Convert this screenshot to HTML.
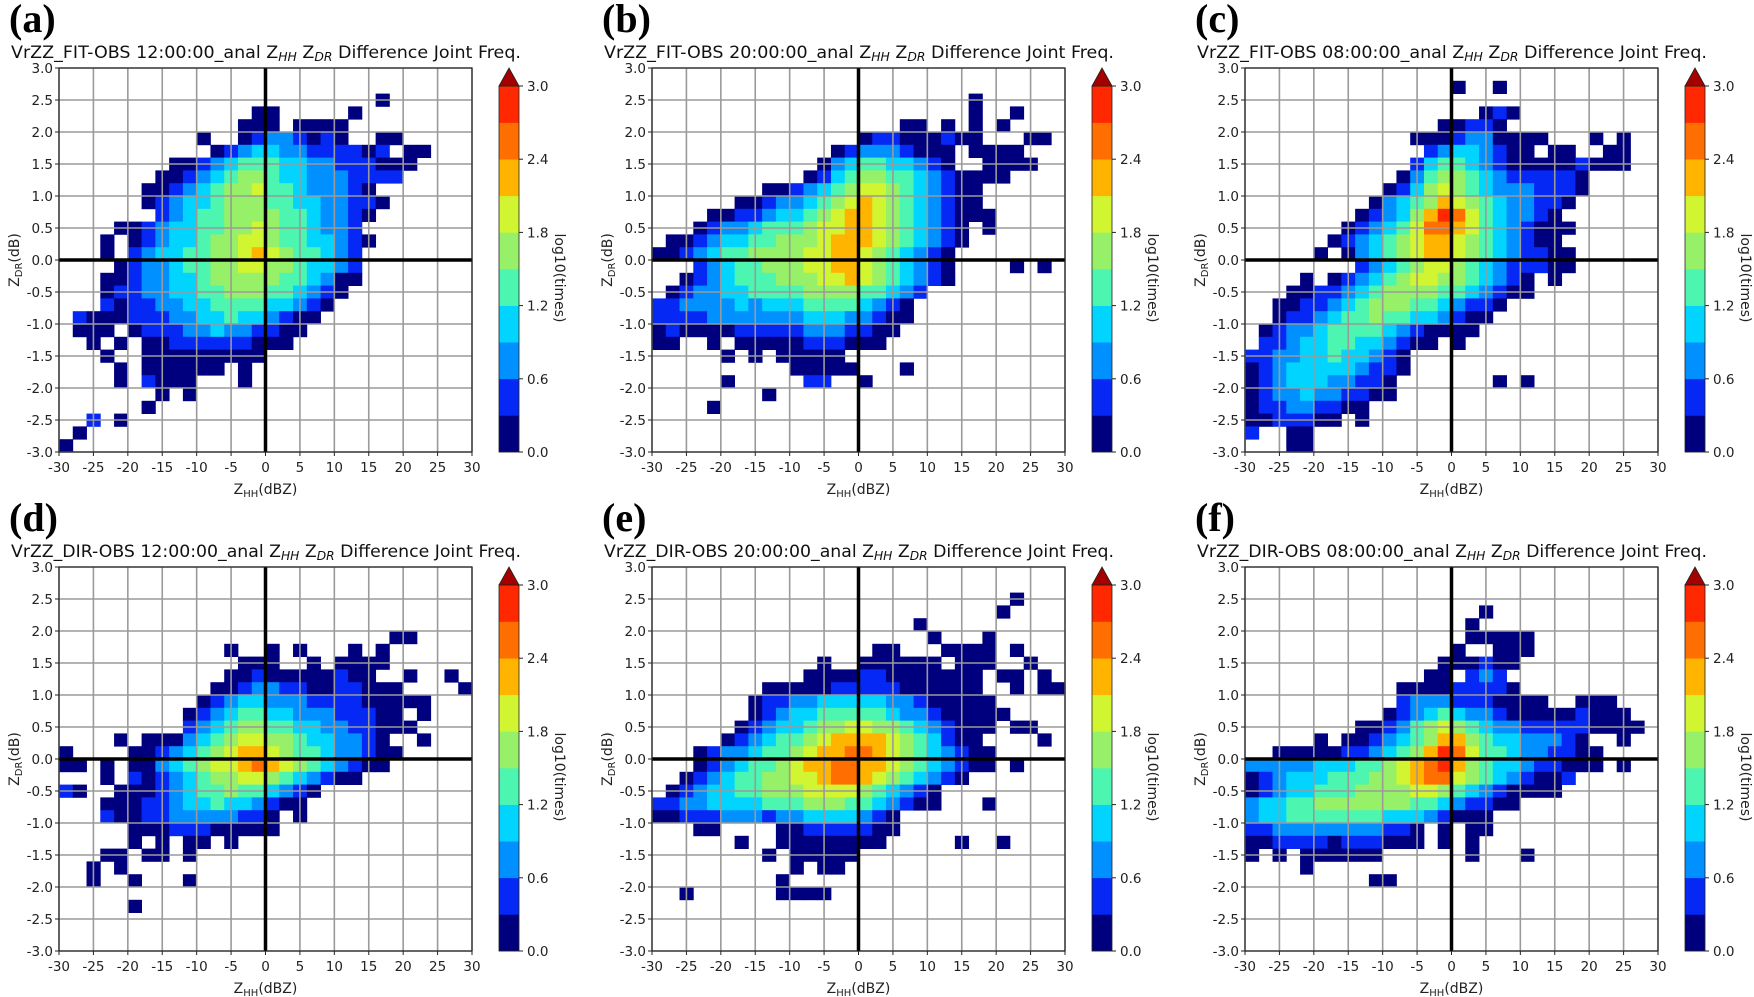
<!DOCTYPE html>
<html><head><meta charset="utf-8">
<style>
html,body{margin:0;padding:0;background:#fff;}
svg{display:block;}
text{font-family:"DejaVu Sans","Liberation Sans",sans-serif;}
</style></head>
<body>
<svg id="fig" width="1754" height="997" viewBox="0 0 1754 997" xmlns="http://www.w3.org/2000/svg"></svg>
<script>
// Bins: 30 x-bins of 2 dBZ (-30..30), 30 y-bins of 0.2 dB (3.0 top .. -3.0 bottom)
// Each entry "row:startCol:levels" ; level digit 1..9, A = colorbar class; '.' = empty
const xEdges = [-30, 30];
const yEdges = [-3, 3];
const xTicks = [-30,-25,-20,-15,-10,-5,0,5,10,15,20,25,30];
const yTicks = [3.0,2.5,2.0,1.5,1.0,0.5,0.0,-0.5,-1.0,-1.5,-2.0,-2.5,-3.0];
const cbTicks = [0.0,0.6,1.2,1.8,2.4,3.0];
const cbLevels = [0,0.3,0.6,0.9,1.2,1.5,1.8,2.1,2.4,2.7,3.0];
const panelLabels = ["(a)","(b)","(c)","(d)","(e)","(f)"];
const panelNames = ["VrZZ_FIT-OBS 12:00:00_anal","VrZZ_FIT-OBS 20:00:00_anal","VrZZ_FIT-OBS 08:00:00_anal","VrZZ_DIR-OBS 12:00:00_anal","VrZZ_DIR-OBS 20:00:00_anal","VrZZ_DIR-OBS 08:00:00_anal"];

const panelA = ["2:23:1","3:14:11.....1","4:13:111.1111","5:10:1..12332121..11","6:11:1234433222212.11","7:8:112345554433222111","8:7:112345665443332222","9:6:11234566755433321","10:6:123445666554433221","11:7:2345566665543321","12:4:112344556676554332","13:3:1.123445667765544321","14:3:1.23445566787655432","15:4:123345566776654432","16:3:1123344566666554311","17:3:122334455666554321","18:3:21223344555544321","19:1:211122233445443211","20:1:111.1222334332211","21:2:1.1.11222222111","22:3:1..111111111","23:4:1.111111.1","24:4:1.2111...1","25:7:1.1","26:6:1","27:2:2.1","28:1:1","29:0:1"];
const panelB = ["2:23:1","3:23:1..1","4:18:11.1.1.1","5:15:122111211...11","6:13:123332111.1111","7:12:1345544321..1111","8:11:124566554321111","9:8:1123456776543211","10:6:112334567876543211","11:4:112234456788765432111","12:3:12334555677887654321.1","13:1:1123445566678887654321","14:0:1123455666677887654321","15:3:2345566677887654321....1.1","16:2:12345556667787654321","17:1:1233445555666655432","18:0:2233334344455554321","19:0:2222333333344433211","20:0:121111222223332211","21:0:11..1.11111222111","22:5:1.1.11111","23:10:11111...1","24:5:1.....22..1","25:8:1","26:4:1"];
const panelC = ["1:15:1..1","3:17:121","4:14:11221","5:12:1112331111...1.1","6:13:23443211.11..11","7:12:2455432111112111","8:11:13566543222221","9:10:124676543332221","10:9:134568765433221","11:8:123468A97543321","12:7:12345799875432111","13:6:12345678876543211","14:5:1.13456788765432211","15:8:2345677654322211","16:4:1.123456776654321.1","17:3:112234566665543211","18:2:11223456665543221","19:2:1223455655443211","20:1:1233455554321111","21:1:2234455443211.1","22:0:223344544321","23:0:123444443221","24:0:12344433221.......1.1","25:0:12334332211","26:0:122332211","27:0:1122211.1","28:0:2..11","29:3:11"];
const panelD = ["5:24:11","6:12:1..1.1...1.1","7:13:111..1.1111","8:12:11211111211..1..1","9:11:11233221122111....1","10:10:12344333222211111","11:9:1234554433322211.1","12:9:23456655443322111","13:4:1.111345677665443321..1","14:0:1....11234567887655433211","15:0:11.1.1134567789876543211","16:3:1.21234566776543211","17:0:21..111234556554321","18:3:111223445443211","19:3:2112233333221.1","20:5:11122211111","21:5:1.1.11.1","22:3:11.11.1","23:2:1.1","24:2:1..1...1","26:5:1"];
const panelE = ["2:26:1","3:25:1","4:19:1","5:20:1...1","6:16:11...1111.1","7:12:1..111111.111..1","8:11:1111221111111.11.1","9:8:1111122222111111..1.11","10:7:122334444433211111","11:7:1234455555433211111","12:6:1234456677665432111.11","13:5:1234556788887654211....1","14:3:1233455678899876543211","15:3:1234556788998876543211.1","16:2:123455667789987654321","17:1:12344556667777654321","18:0:223344445556665543211...1","19:0:112223332334444321","20:3:11....112222211","21:6:1..11111111.....1..1","22:8:1.11111","23:10:1.11","24:9:1","25:2:1......1111"];
const panelF = ["3:17:1","4:16:1","5:16:11111","6:15:1..111","7:14:111211","8:13:11.232","9:11:111122221","10:11:23332221111..111","11:10:123454332111112111","12:8:112356765433222221111","13:5:1.112345688654433321..1","14:2:111112234568A97554332211","15:0:33333444556789A86544322111.1","16:0:123444555667899765432112","17:0:12344555666677654321111","18:0:34455666666655432211","19:0:344555555544432111","20:0:2233333333221.1.11","21:0:1122221222111.1.1","22:0:1.1.111111......1...1","23:4:1","24:9:11"];
const panels = [panelA,panelB,panelC,panelD,panelE,panelF];

const levelColors = ["#00007f","#0528f5","#0090ff","#00d4ff","#4cf5b0","#96f068","#d2f532","#ffb400","#ff6e00","#ff2800"];
const NS = "http://www.w3.org/2000/svg";
const svg = document.getElementById("fig");
function mk(tag, attrs, parent){ const e=document.createElementNS(NS,tag); for(const k in attrs) e.setAttribute(k,attrs[k]); (parent||svg).appendChild(e); return e; }

const colX = [59, 652, 1245];
const rowY = [68, 567];
const PW = 413, PH = 384;
const NX = 30, NY = 30;

panels.forEach((data, p) => {
  const X0 = colX[p%3], Y0 = rowY[Math.floor(p/3)];
  const g = mk("g", {});
  
  
  const sx = v => X0 + (v - xEdges[0]) / (xEdges[1]-xEdges[0]) * PW;
  const sy = v => Y0 + (yEdges[1] - v) / (yEdges[1]-yEdges[0]) * PH;

  const lab = mk("text", {x: X0-50, y: Y0-36, style:"font-family:'Liberation Serif',serif;font-weight:bold;font-size:40px"}, g);
  lab.textContent = panelLabels[p];
  
  

  const t = mk("text", {x: X0-48, y: Y0-10, "font-size":"17", fill:"#111", textLength:"510", lengthAdjust:"spacingAndGlyphs"}, g);
  
  
  t.innerHTML = panelNames[p] + ' Z<tspan font-size="12" font-style="italic" dy="3">HH</tspan><tspan dy="-3"> Z</tspan><tspan font-size="12" font-style="italic" dy="3">DR</tspan><tspan dy="-3"> Difference Joint Freq.</tspan>';

  const dxBin = (xEdges[1]-xEdges[0])/NX, dyBin = (yEdges[1]-yEdges[0])/NY;
  data.forEach(entry => {
    const parts = entry.split(":");
    const r = +parts[0], c0 = +parts[1], s = parts[2];
    for (let i=0;i<s.length;i++){
      const ch0 = s[i]; if (ch0 === "." || ch0 === " ") continue;
      const lev = ch0 === "A" ? 10 : +ch0;
      const c = c0 + i; if (c >= NX) continue;
      const xv = xEdges[0] + c*dxBin, yv = yEdges[1] - r*dyBin;
      const x1 = sx(xv), y1 = sy(yv), x2 = sx(xv+dxBin), y2 = sy(yv-dyBin);
      const rc = mk("rect", {x:x1.toFixed(2), y:y1.toFixed(2), width:(x2-x1+0.4).toFixed(2), height:(y2-y1+0.4).toFixed(2), fill: levelColors[lev-1]}, g);
      
      
    }
  });

  xTicks.forEach(v => { const l = mk("line",{x1:sx(v),x2:sx(v),y1:Y0,y2:Y0+PH,stroke:"#9a9a9a","stroke-width":"1.6"},g);
      });
  yTicks.forEach(v => { const l = mk("line",{x1:X0,x2:X0+PW,y1:sy(v),y2:sy(v),stroke:"#9a9a9a","stroke-width":"1.6"},g);
      });
  const zx = mk("line",{x1:sx(0),x2:sx(0),y1:Y0,y2:Y0+PH,stroke:"#000","stroke-width":"3.5"},g);
   
  const zy = mk("line",{x1:X0,x2:X0+PW,y1:sy(0),y2:sy(0),stroke:"#000","stroke-width":"3.5"},g);
   
  const fr = mk("rect",{x:X0,y:Y0,width:PW,height:PH,fill:"none",stroke:"#222","stroke-width":"1.2"},g);
   

  xTicks.forEach(v => {
    mk("line",{x1:sx(v),x2:sx(v),y1:Y0+PH,y2:Y0+PH+4,stroke:"#222","stroke-width":"1"},g);
    const tt = mk("text",{x:sx(v),y:Y0+PH+20,"font-size":"13.5","text-anchor":"middle",fill:"#222"},g);
    tt.textContent = String(v);
     
  });
  yTicks.forEach(v => {
    mk("line",{x1:X0-4,x2:X0,y1:sy(v),y2:sy(v),stroke:"#222","stroke-width":"1"},g);
    const tt = mk("text",{x:X0-6,y:sy(v)+5,"font-size":"13.5","text-anchor":"end",fill:"#222"},g);
    tt.textContent = v.toFixed(1);
     
  });
  const xl = mk("text",{x:X0+PW/2,y:Y0+PH+42,"font-size":"14","text-anchor":"middle",fill:"#222"},g);
  xl.innerHTML = 'Z<tspan font-size="10" dy="3">HH</tspan><tspan dy="-3">(dBZ)</tspan>';
   
  const ylx = X0-40, yly = Y0+PH/2;
  const yl = mk("text",{x:ylx,y:yly,"font-size":"14","text-anchor":"middle",fill:"#222",transform:`rotate(-90 ${ylx} ${yly})`},g);
  yl.innerHTML = 'Z<tspan font-size="10" dy="3">DR</tspan><tspan dy="-3">(dB)</tspan>';
   

  const cbX = X0 + 440, cbW = 20, cbTop = Y0 + 18, cbBot = Y0 + PH;
  const cs = v => cbBot - (v - cbLevels[0])/(cbLevels[cbLevels.length-1]-cbLevels[0])*(cbBot-cbTop);
  const cbg = mk("g",{},g);
   
  for (let i=0;i<cbLevels.length-1;i++){
    const y1 = cs(cbLevels[i+1]), y2 = cs(cbLevels[i]);
    const seg = mk("rect",{x:cbX,y:y1,width:cbW,height:y2-y1+0.3,fill:levelColors[i]},cbg);
     
  }
  const tri = mk("polygon",{points:`${cbX},${cbTop} ${cbX+cbW},${cbTop} ${cbX+cbW/2},${Y0}`,fill:"#a50000",stroke:"#222","stroke-width":"0.8"},cbg);
   
  mk("rect",{x:cbX,y:cbTop,width:cbW,height:cbBot-cbTop,fill:"none",stroke:"#222","stroke-width":"0.8"},cbg);
  cbTicks.forEach(v => {
    mk("line",{x1:cbX+cbW,x2:cbX+cbW+4,y1:cs(v),y2:cs(v),stroke:"#222","stroke-width":"1"},cbg);
    const tt = mk("text",{x:cbX+cbW+8,y:cs(v)+5,"font-size":"13.5",fill:"#222"},cbg);
    tt.textContent = v.toFixed(1);
     
  });
  const clx = cbX+56, cly = Y0+210;
  const cl = mk("text",{x:clx,y:cly,"font-size":"14","text-anchor":"middle",fill:"#222",transform:`rotate(90 ${clx} ${cly})`},cbg);
  cl.textContent = "log10(times)";
   
});
</script>
</body></html>
